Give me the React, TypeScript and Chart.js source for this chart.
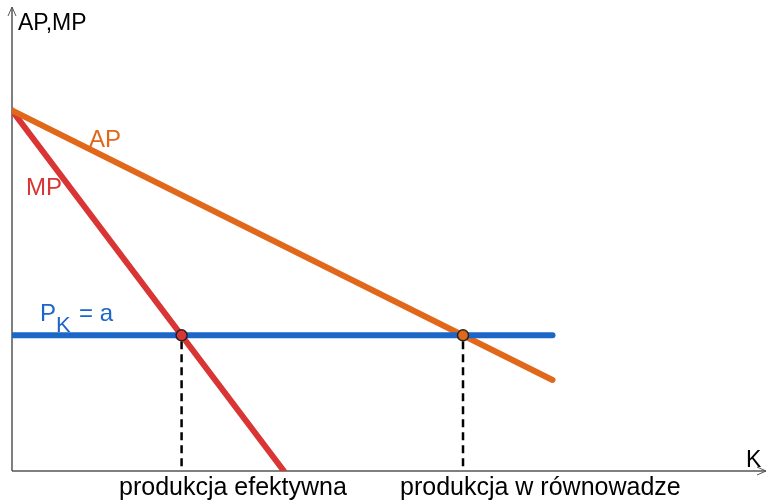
import React, { useEffect, useRef } from "react";
import { Chart, registerables } from "chart.js";

Chart.register(...registerables);

// Data (economic units)
const apX = [0, 10];
const apY = [10.1, 2.55];
const mpX = [0, 5.03];
const mpY = [10.1, 0];
const pkX = [0, 10];
const pkLevel = 3.8;
const xMax = 13.95;
const yMax = 13;

// Intersection points derived from the line definitions
const mpSlope = (mpY[1] - mpY[0]) / (mpX[1] - mpX[0]);
const apSlope = (apY[1] - apY[0]) / (apX[1] - apX[0]);
const effX = (pkLevel - mpY[0]) / mpSlope;
const eqX = (pkLevel - apY[0]) / apSlope;

const axisLabels = { y: "AP,MP", x: "K" };
const curveLabels = { ap: "AP", mp: "MP", pk: "= a" };
const bottomLabels = ["produkcja efektywna", "produkcja w równowadze"];

const ORANGE = "#e1681a";
const RED = "#d93535";
const BLUE = "#1b66c6";
const FONT = "Liberation Sans, Arial, sans-serif";

export default function App() {
  const ref = useRef<HTMLCanvasElement>(null);
  useEffect(() => {
    document.body.style.margin = "0";
    const ctx = ref.current!.getContext("2d")!;
    const overlay = {
      id: "overlay",
      beforeDatasetsDraw(chart: any) {
        const c = chart.ctx;
        const xs = chart.scales.x;
        const ys = chart.scales.y;
        const x0 = xs.getPixelForValue(0);
        const y0 = ys.getPixelForValue(0);
        c.save();
        // dashed drop lines
        c.strokeStyle = "#000";
        c.lineWidth = 2.5;
        c.setLineDash([8, 5]);
        for (const vx of [effX, eqX]) {
          const px = xs.getPixelForValue(vx);
          c.beginPath();
          c.moveTo(px, ys.getPixelForValue(pkLevel) + 6);
          c.lineTo(px, y0);
          c.stroke();
        }
        c.setLineDash([]);
        // axes
        c.strokeStyle = "#555";
        c.lineWidth = 1.5;
        c.beginPath();
        c.moveTo(x0, y0);
        c.lineTo(x0, chart.chartArea.top);
        c.moveTo(x0, y0);
        c.lineTo(chart.chartArea.right, y0);
        c.stroke();
        c.lineWidth = 1;
        c.beginPath();
        c.moveTo(x0 - 4, chart.chartArea.top + 9);
        c.lineTo(x0, chart.chartArea.top);
        c.lineTo(x0 + 4, chart.chartArea.top + 9);
        c.moveTo(chart.chartArea.right - 9, y0 - 4);
        c.lineTo(chart.chartArea.right, y0);
        c.lineTo(chart.chartArea.right - 9, y0 + 4);
        c.stroke();
        c.restore();
      },
      afterDatasetsDraw(chart: any) {
        const c = chart.ctx;
        c.save();
        c.textBaseline = "alphabetic";
        c.textAlign = "left";
        c.font = `23px ${FONT}`;
        c.fillStyle = "#000";
        c.fillText(axisLabels.y, 18, 30);
        c.fillText(axisLabels.x, 746, 467);
        c.font = `24px ${FONT}`;
        c.fillStyle = ORANGE;
        c.fillText(curveLabels.ap, 89, 147);
        c.fillStyle = RED;
        c.fillText(curveLabels.mp, 26, 195);
        c.fillStyle = BLUE;
        c.fillText("P", 40, 321);
        c.font = `22px ${FONT}`;
        c.fillText("K", 56, 332);
        c.font = `24px ${FONT}`;
        c.fillText(curveLabels.pk, 79, 321);
        c.fillStyle = "#000";
        c.font = `25px ${FONT}`;
        c.fillText(bottomLabels[0], 119, 495);
        c.fillText(bottomLabels[1], 400, 495);
        c.restore();
      },
    };
    const lineDs = (label: string, xs: number[], ys: number[], color: string) => ({
      label,
      data: xs.map((x, i) => ({ x, y: ys[i] })),
      showLine: true,
      borderColor: color,
      borderWidth: 6,
      borderCapStyle: "round",
      pointRadius: 0,
      order: 2,
    });
    const chart = new Chart(ctx, {
      type: "scatter",
      data: {
        datasets: [
          lineDs("PK", pkX, pkX.map(() => pkLevel), BLUE),
          lineDs("AP", apX, apY, ORANGE),
          lineDs("MP", mpX, mpY, RED),
          {
            label: "eff",
            data: [{ x: effX, y: pkLevel }],
            pointRadius: 5.5,
            backgroundColor: RED,
            borderColor: "#222",
            borderWidth: 1.5,
            order: 0,
          },
          {
            label: "eq",
            data: [{ x: eqX, y: pkLevel }],
            pointRadius: 5.5,
            backgroundColor: ORANGE,
            borderColor: "#222",
            borderWidth: 1.5,
            order: 0,
          },
        ],
      } as any,
      options: {
        animation: false,
        responsive: false,
        layout: { padding: { left: 12, right: 3, top: 2, bottom: 30 } },
        plugins: { legend: { display: false }, tooltip: { enabled: false } },
        scales: {
          x: { type: "linear", min: 0, max: xMax, display: false },
          y: { type: "linear", min: 0, max: yMax, display: false },
        },
      },
      plugins: [overlay],
    });
    return () => chart.destroy();
  }, []);
  return (
    <div style={{ position: "absolute", left: 0, top: 0, width: 773, height: 501 }}>
      <canvas ref={ref} width={773} height={501} />
    </div>
  );
}
